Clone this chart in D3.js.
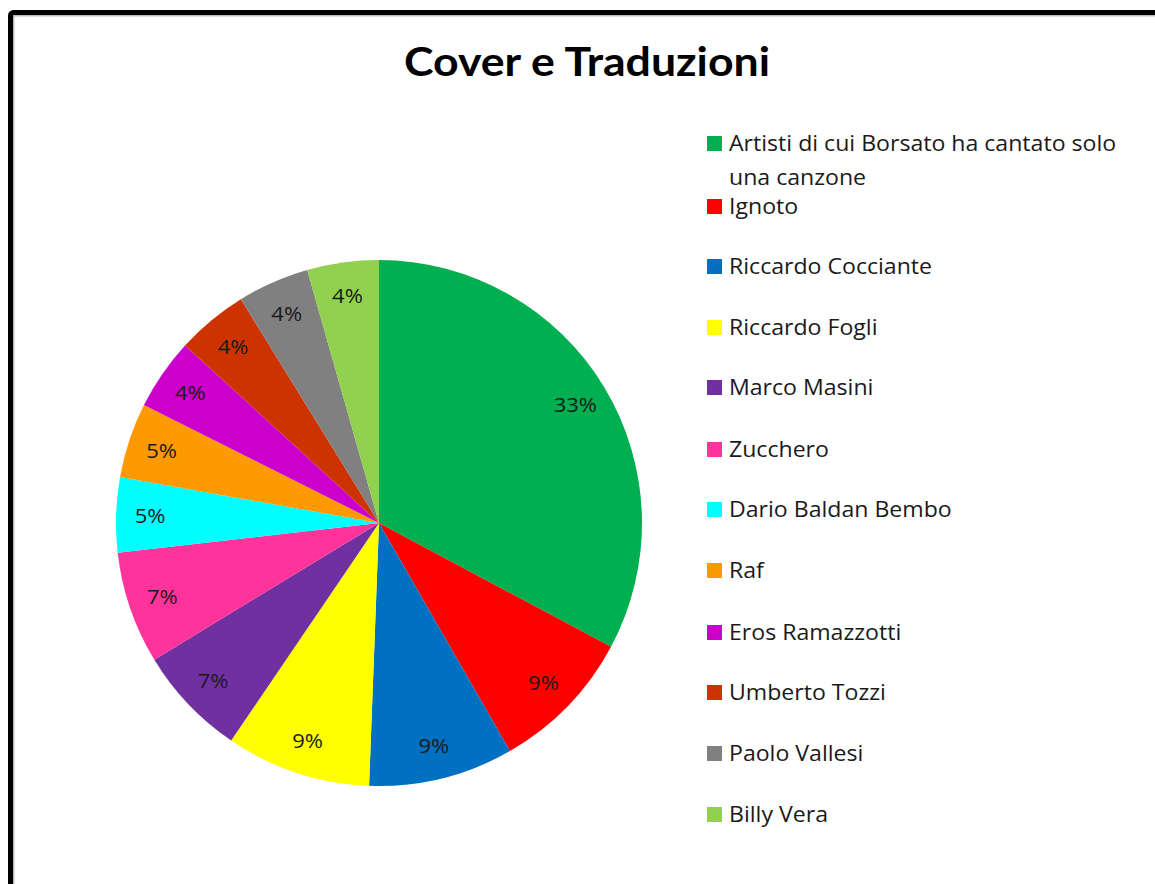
<!DOCTYPE html>
<html>
<head>
<meta charset="utf-8">
<script src="https://cdn.jsdelivr.net/npm/d3@7"></script>
<style>
  body { margin: 0; background: #fff; }
  svg text { font-family: "Open Sans", Lato, sans-serif; }
</style>
</head>
<body>
<div id="chart"></div>
<script>
// data (shares in %)
const artists = ["Artisti di cui Borsato ha cantato solo una canzone", "Ignoto", "Riccardo Cocciante",
  "Riccardo Fogli", "Marco Masini", "Zucchero", "Dario Baldan Bembo", "Raf", "Eros Ramazzotti",
  "Umberto Tozzi", "Paolo Vallesi", "Billy Vera"]
const shares = [32.8, 8.9, 8.9, 8.9, 6.8, 6.9, 4.6, 4.6, 4.4, 4.4, 4.4, 4.4]
const colors = ["#00b050", "#ff0000", "#0070c0", "#ffff00", "#7030a0", "#ff3399",
  "#00ffff", "#ff9900", "#cc00cc", "#cc3300", "#808080", "#92d050"]

const w = 1155, h = 884
const cx = 379, cy = 523, radius = 263
const stretch = 1.1   // the original text looks a little wider than the installed fonts

const svg = d3.select("#chart").append("svg")
  .attr("width", w)
  .attr("height", h)

// frame (runs off the right and bottom of the picture)
svg.append("rect")
  .attr("x", 12).attr("y", 14)
  .attr("width", w + 20).attr("height", h + 20)
  .attr("rx", 3)
  .attr("fill", "none")
  .attr("stroke", "#bbb")
  .attr("stroke-width", 5)
svg.append("rect")
  .attr("x", 10.5).attr("y", 12.5)
  .attr("width", w + 20).attr("height", h + 20)
  .attr("rx", 3)
  .attr("fill", "none")
  .attr("stroke", "#000")
  .attr("stroke-width", 5)

svg.append("text")
  .attr("x", 587)
  .attr("y", 76)
  .attr("text-anchor", "middle")
  .attr("font-size", 40)
  .attr("font-weight", "bold")
  .attr("textLength", 366)
  .attr("lengthAdjust", "spacingAndGlyphs")
  .style("font-family", "Lato, sans-serif")
  .text("Cover e Traduzioni")

const color = d3.scaleOrdinal().domain(artists).range(colors)
const data = artists.map((a, i) => ({ name: a, value: shares[i] }))
const pie = d3.pie().sort(null).value(d => d.value)
const arcs = pie(data)
const arc = d3.arc().innerRadius(0).outerRadius(radius)
const labelArc = d3.arc().innerRadius(229).outerRadius(229)
const total = d3.sum(shares)

const g = svg.append("g").attr("transform", "translate(" + cx + "," + cy + ")")

g.selectAll("path")
  .data(arcs)
  .enter()
  .append("path")
  .attr("d", arc)
  .attr("fill", d => color(d.data.name))

g.selectAll(".lbl")
  .data(arcs)
  .enter()
  .append("text")
  .attr("class", "lbl")
  .attr("transform", d => "translate(" + labelArc.centroid(d) + ") scale(" + stretch + ",1)")
  .attr("text-anchor", "middle")
  .attr("dy", "0.36em")
  .attr("font-size", 20)
  .attr("fill", "#1a1a1a")
  .text(d => Math.round(d.data.value / total * 100) + "%")

// legend
const legendY = [151, 214, 274, 335, 395, 457, 517, 578, 640, 700, 761, 822]
const leg = svg.append("g")
artists.forEach((a, i) => {
  const y = legendY[i]
  leg.append("rect")
    .attr("x", 707).attr("y", y - 15)
    .attr("width", 15).attr("height", 15)
    .attr("fill", colors[i])
  const t = leg.append("text")
    .attr("transform", "translate(729," + y + ") scale(" + stretch + ",1)")
    .attr("font-size", 21)
    .attr("fill", "#1a1a1a")
  if (i == 0) {
    t.append("tspan").attr("x", 0).text("Artisti di cui Borsato ha cantato solo")
    t.append("tspan").attr("x", 0).attr("dy", 34).text("una canzone")
  } else {
    t.text(a)
  }
})
</script>
</body>
</html>
